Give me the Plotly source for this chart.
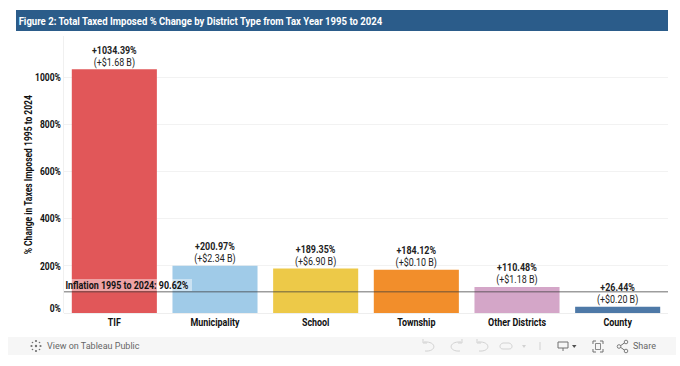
import plotly.graph_objects as go

W, H = 680, 366
L, R, T, B = 64, 668, 36, 313
FONT = "Roboto, sans-serif"

categories = ["TIF", "Municipality", "School", "Township", "Other Districts", "County"]
pct_change = [1034.39, 200.97, 189.35, 184.12, 110.48, 26.44]
dollar_change = ["+$1.68 B", "+$2.34 B", "+$6.90 B", "+$0.10 B", "+$1.18 B", "+$0.20 B"]
colors = ["#E15759", "#A0CBE8", "#EDC948", "#F28E2B", "#D4A6C8", "#4E79A7"]
y_ticks = [0, 200, 400, 600, 800, 1000]
y_tick_labels = ["0%", "200%", "400%", "600%", "800%", "1000%"]
inflation = 90.62
title_text = "Figure 2: Total Taxed Imposed % Change by District Type from Tax Year 1995 to 2024"
y_title = "% Change in Taxes Imposed 1995 to 2024"


def px(x):
    return (x - L) / (R - L)


def py(y):
    return (B - y) / (B - T)


def pt(p):
    return f"{px(p[0]):.4f},{py(p[1]):.4f}"


def path(points, close=False):
    s = "M " + " L ".join(pt(p) for p in points)
    return s + (" Z" if close else "")


def curve(a, c1, c2, b):
    return f"M {pt(a)} C {pt(c1)} {pt(c2)} {pt(b)}"


labels = [f"<b>+{p:.2f}%</b><br>({d})" for p, d in zip(pct_change, dollar_change)]

fig = go.Figure(
    go.Bar(
        x=categories,
        y=pct_change,
        marker=dict(color=colors, line=dict(width=0)),
        text=labels,
        textposition="outside",
        textangle=0,
        cliponaxis=False,
        textfont=dict(family=FONT, size=11, color="#222222"),
        hoverinfo="skip",
    )
)

paper = dict(xref="paper", yref="paper")
shapes = [
    dict(type="rect", **paper, x0=px(16), x1=px(668), y0=py(31), y1=py(10),
         fillcolor="#2B5C8A", line_width=0, layer="below"),
    dict(type="rect", **paper, x0=px(8), x1=px(676), y0=py(355), y1=py(337),
         fillcolor="#F6F6F6", line_width=0, layer="below"),
    dict(type="rect", **paper, x0=px(65), x1=px(192), y0=py(291), y1=py(279),
         fillcolor="rgba(255,255,255,0.45)", line_width=0, layer="above"),
    dict(type="line", xref="paper", x0=0, x1=1, yref="y", y0=inflation, y1=inflation,
         line=dict(color="rgba(60,60,60,0.5)", width=1.5), layer="above"),
]
grey = "#D2D2D2"
dark = "#707070"


def stroke(d, color=grey, width=1):
    shapes.append(dict(type="path", **paper, path=d, line=dict(color=color, width=width)))


stroke(curve((424, 342), (437, 341), (437, 352), (425, 351)))
stroke(path([(423, 339), (423, 343), (427, 343)]))
stroke(curve((461, 342), (448, 341), (448, 352), (460, 351)))
stroke(path([(462, 339), (462, 343), (458, 343)]))
stroke(curve((478, 342), (491, 341), (491, 352), (479, 351)))
stroke(path([(477, 339), (477, 343), (481, 343)]))
stroke(curve((503, 343), (499, 344), (499, 349), (503, 349)))
stroke(curve((509, 343), (513, 344), (513, 349), (509, 349)))
stroke(path([(503, 343), (509, 343)]))
stroke(path([(503, 349), (509, 349)]))
shapes.append(dict(type="path", **paper, path=path([(522, 345), (526, 345), (524, 348)], True),
                   fillcolor=grey, line_width=0))
stroke(path([(540, 342), (540, 350)]))
# device preview
shapes.append(dict(type="rect", **paper, x0=px(558), x1=px(568), y0=py(348), y1=py(342),
                   line=dict(color=dark, width=1)))
stroke(path([(563, 348), (563, 351)]), dark)
shapes.append(dict(type="path", **paper, path=path([(572, 345), (576.5, 345), (574.2, 348)], True),
                   fillcolor="#505050", line_width=0))
# full screen
for c in [
    [(593, 344), (593, 341), (596, 341)],
    [(600, 341), (603, 341), (603, 344)],
    [(603, 349), (603, 352), (600, 352)],
    [(596, 352), (593, 352), (593, 349)],
]:
    stroke(path(c), dark)
shapes.append(dict(type="rect", **paper, x0=px(595.5), x1=px(600.5), y0=py(349.5), y1=py(343.5),
                   line=dict(color=dark, width=0.8)))
# share
stroke(path([(625, 342.5), (619.5, 346.5), (625, 350.5)]), dark)
for cx, cy in [(626, 342), (619, 346.5), (626, 351)]:
    shapes.append(dict(type="circle", **paper, x0=px(cx - 1.8), x1=px(cx + 1.8), y0=py(cy + 1.8), y1=py(cy - 1.8),
                       fillcolor="#F6F6F6", line=dict(color=dark, width=0.9)))
# tableau mark
for cx, cy, r in [(36, 341, 1.1), (36, 351, 1.1), (31.5, 346, 1.1), (40.5, 346, 1.1), (36, 346, 1.2),
                  (32.5, 342.5, .8), (39.5, 342.5, .8), (32.5, 349.5, .8), (39.5, 349.5, .8)]:
    shapes.append(dict(type="circle", **paper, x0=px(cx - r), x1=px(cx + r), y0=py(cy + r), y1=py(cy - r),
                       fillcolor="#707070", line_width=0))

annotations = [
    dict(**paper, x=px(200), y=py(20.5), xanchor="center", yanchor="middle", showarrow=False,
         text=f"<b>{title_text}</b>", font=dict(family=FONT, size=11.8, color="white")),
    dict(**paper, x=px(127), y=py(285), xanchor="center", yanchor="middle", showarrow=False,
         text=f"<b>Inflation 1995 to 2024: {inflation:.2f}%</b>",
         font=dict(family=FONT, size=11, color="#111111")),
    dict(**paper, x=px(28), y=py(175), xanchor="center", yanchor="middle", showarrow=False, textangle=-90,
         text=f"<b>{y_title}</b>", font=dict(family=FONT, size=10.5, color="#111111")),
    dict(**paper, x=px(45), y=py(346), xanchor="left", yanchor="middle", showarrow=False,
         text="View on Tableau Public", font=dict(family=FONT, size=9, color="#666666")),
    dict(**paper, x=px(631), y=py(346), xanchor="left", yanchor="middle", showarrow=False,
         text="Share", font=dict(family=FONT, size=9, color="#666666")),
]

fig.update_layout(
    width=W,
    height=H,
    autosize=False,
    margin=dict(l=L, r=W - R, t=T, b=H - B, pad=0),
    paper_bgcolor="white",
    plot_bgcolor="white",
    showlegend=False,
    bargap=0.155,
    shapes=shapes,
    annotations=annotations,
    font=dict(family=FONT),
    xaxis=dict(
        showgrid=False, zeroline=False, showline=False, ticks="", fixedrange=True,
        tickfont=dict(family=FONT, size=11, color="#111111"), ticklabelstandoff=1,
        tickmode="array", tickvals=categories, ticktext=[f"<b>{c}</b>" for c in categories],
    ),
    yaxis=dict(
        range=[0, 1176], tickmode="array", tickvals=y_ticks,
        ticktext=[f"<b>{t}</b>" for t in y_tick_labels],
        tickfont=dict(family=FONT, size=10.5, color="#111111"),
        showgrid=True, gridcolor="#F2F2F2", gridwidth=1,
        zeroline=True, zerolinecolor="#EEEEEE", zerolinewidth=1,
        showline=True, linecolor="#F0F0F0", ticks="", fixedrange=True,
    ),
)

# Roboto is the closest installed face; the reference uses its condensed cut, so squeeze glyphs horizontally.
post = """
document.body.style.margin='0';document.body.style.overflow='hidden';
function squeeze(){
  document.querySelectorAll('.main-svg text').forEach(function(t){
    var s=t.textContent;
    if(s.indexOf('Tableau')>=0||s==='Share'||t.getAttribute('data-sq'))return;
    t.setAttribute('data-sq','1');
    var lines=t.querySelectorAll('tspan.line');
    var els=lines.length?Array.from(lines):[t];
    els.forEach(function(e){
      var n=e.getComputedTextLength();
      if(n>0){e.setAttribute('textLength',(n*0.81).toFixed(1));e.setAttribute('lengthAdjust','spacingAndGlyphs');}
    });
    if(t.classList.contains('bartext')&&lines.length===2){
      lines[1].setAttribute('dy','1.12em');
      t.setAttribute('transform','translate(0,4.5) '+(t.getAttribute('transform')||''));
    }
    if(s==='0%'&&t.closest('.ytick')){
      t.setAttribute('transform','translate(0,-5) '+(t.getAttribute('transform')||''));
    }
  });
}
squeeze();setTimeout(squeeze,30);setTimeout(squeeze,200);
"""
fig.write_html("out.html", config={"displayModeBar": False}, post_script=post)
